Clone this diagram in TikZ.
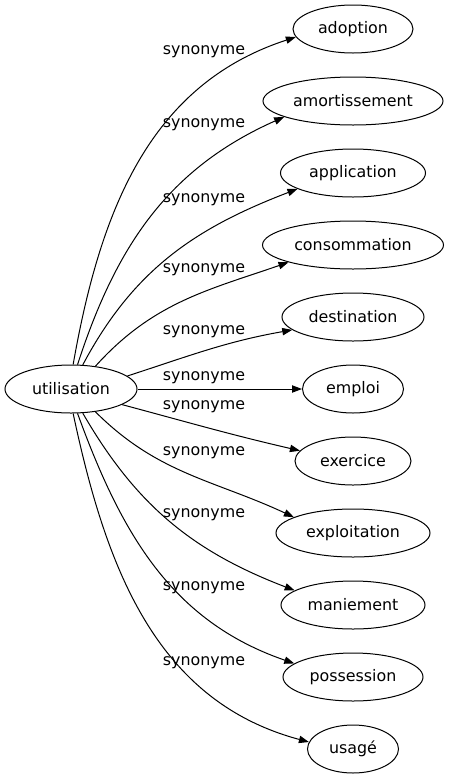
\documentclass[tikz,border=0pt]{standalone}
\usepackage{fontspec}
\setmainfont{DejaVu Sans}
\usetikzlibrary{arrows.meta,shapes.geometric}
\tikzset{
  word/.style={draw, ellipse, inner sep=0pt, minimum height=36pt, line width=0.75pt},
  syn/.style={line width=0.75pt, -{Triangle[length=7.5pt,width=5.5pt]}},
  rel/.style={inner sep=0pt}
}
\begin{document}
\begin{tikzpicture}[x=0.75pt,y=-0.75pt,font=\fontsize{11.9}{14}\selectfont]
                \useasboundingbox (0,0) rectangle (449,779);

                \node[word, minimum width=99pt] (utilisation) at (71,389) {utilisation};

                \node[word, minimum width=90pt] (adoption) at (353,29) {adoption};
                \node[word, minimum width=135pt] (amortissement) at (353,101) {amortissement};
                \node[word, minimum width=108.75pt] (application) at (353,173) {application};
                \node[word, minimum width=135.75pt] (consommation) at (353,245) {consommation};
                \node[word, minimum width=106.5pt] (destination) at (353,317) {destination};
                \node[word, minimum width=75.75pt] (emploi) at (353,389) {emploi};
                \node[word, minimum width=87pt] (exercice) at (353,461) {exercice};
                \node[word, minimum width=115.5pt] (exploitation) at (353,533) {exploitation};
                \node[word, minimum width=108pt] (maniement) at (353,605) {maniement};
                \node[word, minimum width=105pt] (possession) at (353,677) {possession};
                \node[word, minimum width=68.25pt] (usage) at (353,749) {usagé};

                \draw[syn] (utilisation.85) to[out=80,in=198] (adoption.188);
                \draw[syn] (utilisation.75) to[out=72,in=204] (amortissement.193);
                \draw[syn] (utilisation.64) to[out=62,in=201] (application.196);
                \draw[syn] (utilisation.43) to[out=48,in=199] (consommation.195);
                \draw[syn] (utilisation.13) to[out=18,in=190] (destination.192);
                \draw[syn] (utilisation.0) -- (emploi.180);
                \draw[syn] (utilisation.-17) to[out=-15,in=167] (exercice.169);
                \draw[syn] (utilisation.-43) to[out=-45,in=155] (exploitation.165);
                \draw[syn] (utilisation.-64) to[out=-60,in=159] (maniement.166);
                \draw[syn] (utilisation.-75) to[out=-70,in=161] (possession.167);
                \draw[syn] (utilisation.-85) to[out=-78,in=165] (usage.171);

                \node[rel] (rAdoption) at (204,52) {synonyme};
                \node[rel] (rAmortissement) at (204,125) {synonyme};
                \node[rel] (rApplication) at (204,200) {synonyme};
                \node[rel] (rConsommation) at (204,270) {synonyme};
                \node[rel] (rDestination) at (204,332) {synonyme};
                \node[rel] (rEmploi) at (204,378) {synonyme};
                \node[rel] (rExercice) at (204,407) {synonyme};
                \node[rel] (rExploitation) at (204,453) {synonyme};
                \node[rel] (rManiement) at (204,515) {synonyme};
                \node[rel] (rPossession) at (204,588) {synonyme};
                \node[rel] (rUsage) at (204,663) {synonyme};
            \end{tikzpicture}
\end{document}
